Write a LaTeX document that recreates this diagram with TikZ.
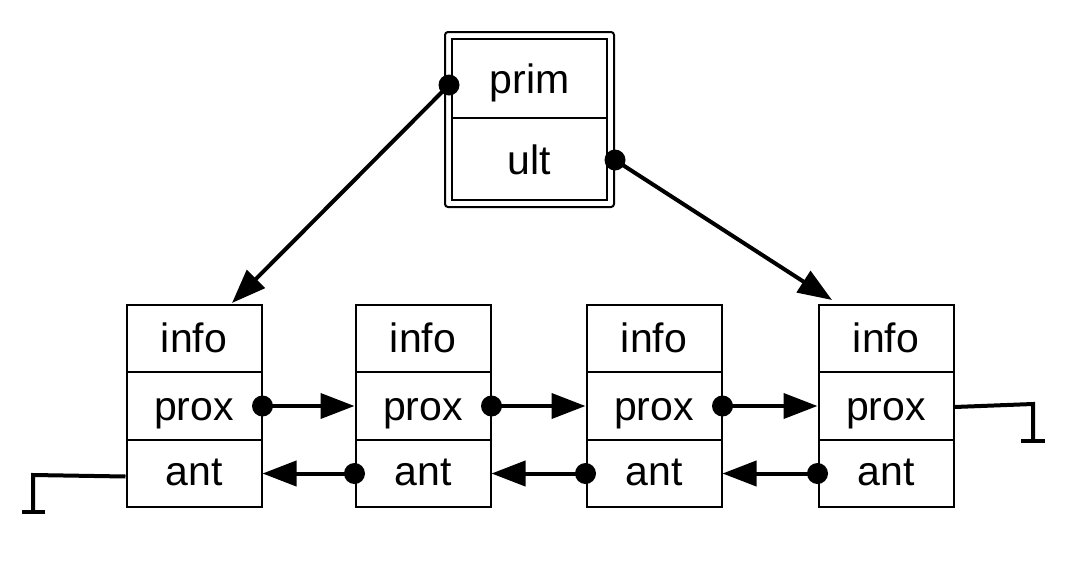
\documentclass[tikz,border=0pt]{standalone}
\usepackage{fontspec}
\setmainfont{Liberation Sans}
\usetikzlibrary{arrows.meta}
\begin{document}
\begin{tikzpicture}[x=1pt,y=-1pt,
  cell/.style={draw,line width=2pt,minimum width=135pt,minimum height=67.5pt,inner sep=0pt,font=\fontsize{41}{48}\selectfont,text height=28pt,text depth=0pt,anchor=center},
  hcell/.style={draw,line width=2pt,minimum width=155pt,inner sep=0pt,font=\fontsize{41}{48}\selectfont,text height=30pt,text depth=0pt},
  link/.style={line width=4pt,-{Triangle[length=34pt,width=25pt]}},
  dot/.style={circle,fill=black,inner sep=0pt,minimum size=21pt},
  nil/.style={line width=4pt}]
\useasboundingbox (0,0) rectangle (1072,563);
% header
\draw[line width=2pt,rounded corners=3pt] (445,32) rectangle (614,207);
\node[hcell,minimum height=79pt] (prim) at (529.5,78.5) {prim};
\node[hcell,minimum height=82pt] (ult) at (529.5,159) {ult};
% list nodes
\foreach \n/\x in {1/194,2/423,3/654,4/886}{
  \node[cell] (info\n) at (\x,338.5) {info};
  \node[cell] (prox\n) at (\x,406) {prox};
  \node[cell,text height=24pt] (ant\n) at (\x,473.5) {ant};
}
% dots
\node[dot] (dp) at (449,85) {};
\node[dot] (du) at (615,160) {};
\foreach \n in {1,2,3}{
  \node[dot] (dx\n) at (prox\n.east) {};
}
\foreach \n in {2,3,4}{
  \node[dot] (da\n) at (ant\n.west) {};
}
% header arrows
\coordinate (t1) at (232,303);
\coordinate (t4) at (832,300);
\draw[link] (dp.center) -- (t1);
\draw[link] (du.center) -- (t4);
% next / prev arrows
\draw[link] (dx1.center) -- (prox2.west);
\draw[link] (dx2.center) -- (prox3.west);
\draw[link] (dx3.center) -- (prox4.west);
\draw[link] (da2.center) -- (ant1.east);
\draw[link] (da3.center) -- (ant2.east);
\draw[link] (da4.center) -- (ant3.east);
% nil terminators
\coordinate (nl1) at (33,475);
\coordinate (nl2) at (33,512);
\draw[nil] ([yshift=-3pt]ant1.west) -- (nl1) -- (nl2);
\draw[nil] (22,512) -- (45,512);
\coordinate (nr1) at (1033,404);
\coordinate (nr2) at (1033,441);
\draw[nil] ([yshift=-1pt]prox4.east) -- (nr1) -- (nr2);
\draw[nil] (1021,441) -- (1045,441);
\end{tikzpicture}
\end{document}
